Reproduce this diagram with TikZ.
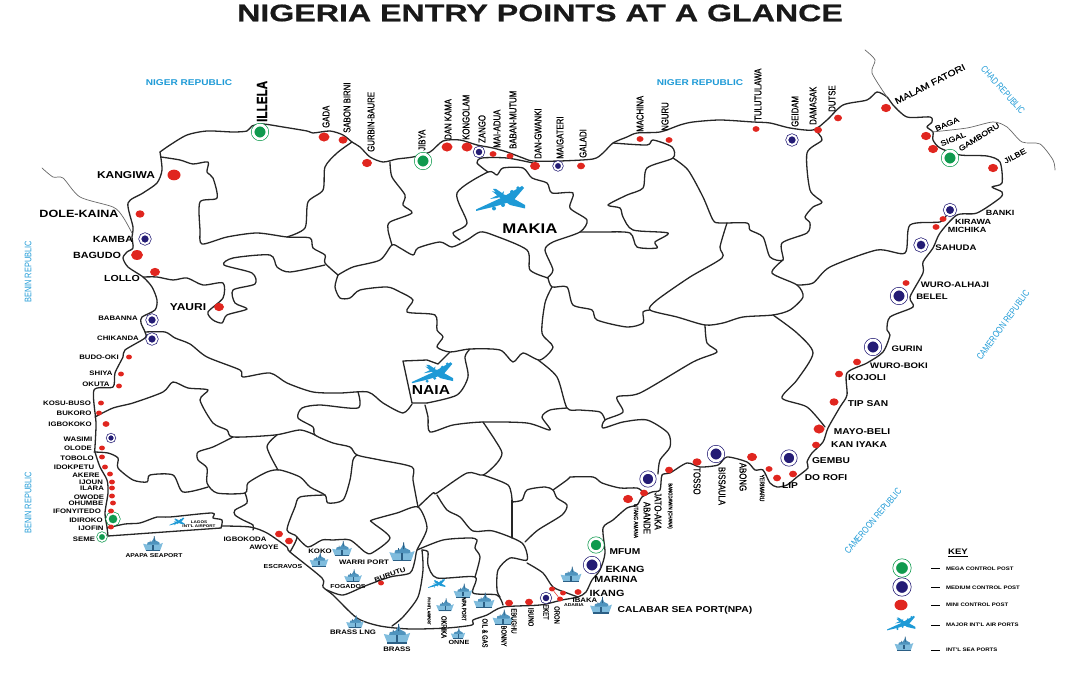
\documentclass[tikz,border=0pt]{standalone}
\usepackage{fontspec}
\usetikzlibrary{shapes.geometric}
\setmainfont{Liberation Sans}
\newfontfamily\maptitle[FakeStretch=1.34,FakeBold=.6]{Liberation Sans}
\newfontfamily\mapwide[FakeStretch=1.2]{Liberation Sans}
\newfontfamily\mapslant[FakeStretch=1.2,FakeBold=.6]{Liberation Sans}
\newfontfamily\mapnarrow[FakeStretch=.78,FakeBold=.5]{Liberation Sans}
\newfontfamily\mapblue[FakeStretch=.78]{Liberation Sans}
\definecolor{postgreen}{HTML}{0F9A4E}
\definecolor{postblue}{HTML}{241C75}
\definecolor{postred}{HTML}{E0261F}
\definecolor{skyblue}{HTML}{1E9AD6}
\definecolor{shipblue}{HTML}{4F94BE}
\definecolor{shiplight}{HTML}{7FBCDD}
\definecolor{shipdark}{HTML}{2B5F85}
\definecolor{inkline}{HTML}{262626}
\tikzset{
  stateline/.style = {draw=inkline,line width=1.3pt,line join=round,line cap=round},
  foreignline/.style = {draw=inkline!70,line width=.7pt,line join=round,line cap=round},
  ringpost/.style = {circle,double=white,line width=.7pt,inner sep=0pt,minimum size=.85*#1pt-1.4pt,double distance=.15*#1pt},
  megapost/.style = {ringpost=#1,draw=postgreen,fill=postgreen},
  mediumpost/.style = {ringpost=#1,draw=postblue,fill=postblue},
  minipost/.style = {ellipse,fill=postred,inner sep=0pt,minimum width=#1pt,minimum height=.82*#1pt},
  wordbig/.style = {inner sep=0pt,text=black,font=\mapwide\bfseries\fontsize{#1}{#1}\selectfont},
  wordup/.style = {inner sep=0pt,text=black,font=\mapnarrow\fontsize{#1}{#1}\selectfont},
  countryword/.style = {inner sep=0pt,text=skyblue,font=\mapwide\bfseries\fontsize{8.4}{8.4}\selectfont},
  countryup/.style = {inner sep=0pt,text=skyblue,font=\mapblue\fontsize{9.5}{9.5}\selectfont},
  plane/.pic = {
    \fill[skyblue] (-31,9.5) -- (-5,-2.5) -- (15,-14) -- (17,-12) -- (6,1) -- (-12,6.5) -- (-31,11) -- cycle;
    \fill[skyblue] (-15,-9) -- (2,-4) -- (18,5) -- (18,8.5) -- (3,5) -- (-8,-3) -- cycle;
    \fill[skyblue] (-17,-1) -- (-9,-5) -- (-14,-11) -- (-11,-11) -- (-5,-7) -- (-3,-9) -- (-4,-4) -- (-10,-2) -- cycle;
    \fill[skyblue] (-13,8.5) circle (2) (-4,5) circle (2) (5,-8) circle (2) (11,-12) circle (1.8);
  },
  ship/.pic = {
    \fill[shipblue] (-7,0) -- (-6,-4) -- (-1.5,-5) -- (0,-7) -- (1.5,-10) -- (3,-6) -- (7,-4) -- (8,0) -- cycle;
    \fill[shiplight] (-11,-2.5) -- (-6,-1.5) -- (6,-1.5) -- (11,-3.5) -- (8,5) -- (-8,5) -- cycle;
    \fill[shipdark] (-8,4.2) rectangle (8,5.6);
    \fill[shipdark] (-.6,-1.5) rectangle (.8,4);
    \fill[shipdark] (1,-11) rectangle (1.8,-5) (-3.4,-6) rectangle (-2.8,-4);
  }
}
\begin{document}
\begin{tikzpicture}[x=1pt,y=-1pt]
\useasboundingbox (0,0) rectangle (1080,684);
% outer frontier
\draw[stateline] plot[smooth,tension=.45] coordinates {(160,152) (170,145) (187,135) (207,131) (233,132) (247,131) (252,126) (263,124) (283,127) (307,131) (313,133) (330,131) (343,135) (352,142) (360,147) (370,157) (383,162) (397,159) (413,157) (430,152) (443,141) (460,140) (477,145) (493,148) (507,152) (523,158) (533,161) (560,161) (593,159) (603,153) (613,143) (627,137) (637,133) (660,132) (680,125) (693,122) (720,120) (753,122) (770,123) (790,128) (813,130) (827,120) (843,105) (867,100) (877,92) (887,97) (893,105) (907,117) (930,117) (932,122) (927,127) (933,132) (933,140) (940,148) (960,155) (987,156) (1000,162) (1002,183) (992,187) (1002,192) (1000,198) (977,213) (957,215) (940,233) (933,248) (923,262) (923,273) (910,297) (913,307) (890,317) (887,330) (890,335) (883,352) (867,363) (847,373) (847,395) (840,407) (828,428) (823,442) (812,453) (807,462) (808,468) (797,477) (787,485) (777,487) (770,483) (763,470) (755,470) (747,462) (727,457) (718,465) (700,467) (687,463) (670,473) (662,475) (660,490) (652,492) (642,497) (637,505) (627,508) (613,520) (603,528) (605,553) (600,570) (592,580) (586,592) (578,597) (562,600) (540,605) (503,607) (487,615) (473,620) (472,625) (447,628) (410,629) (380,626) (357,618) (333,595) (323,587) (322,578) (290,552) (287,547) (267,533) (250,527) (222,526)};
\draw[stateline] (221,528) -- (108,536);
\draw[stateline] plot[smooth,tension=.45] coordinates {(108,536) (107,527) (105,513) (108,493) (107,480) (100,467) (95,452) (95,447) (96,423) (94,390) (113,387) (115,373) (123,357) (125,350) (145,338) (145,332) (141,323) (142,317) (155,310) (157,300) (152,287) (143,277) (128,267) (123,258) (127,252) (133,248) (132,237) (133,227) (128,203) (143,193) (157,183) (162,170) (160,152)};
% north west states
\draw[stateline] plot[smooth,tension=.45] coordinates {(161,157) (180,160) (193,164) (208,162) (207,172) (213,178) (217,198) (200,202) (200,230) (202,244) (227,237) (257,233) (287,237) (310,238) (313,248) (325,255) (325,263) (338,275)};
\draw[stateline] plot[smooth,tension=.45] coordinates {(287,237) (305,228) (308,202) (323,190) (325,167) (337,153) (352,142)};
\draw[stateline] plot[smooth,tension=.45] coordinates {(325,265) (290,272) (277,267) (270,255) (233,258) (224,265) (252,273) (255,284) (233,290) (235,303) (247,309) (227,315) (222,323) (213,320) (208,312) (223,298) (223,283) (203,285) (187,278) (173,280) (157,277) (143,277)};
\draw[stateline] plot[smooth,tension=.45] coordinates {(338,275) (335,287) (340,298) (350,298) (360,290) (387,287) (400,292) (413,300) (407,312) (435,315) (437,330) (443,337) (437,347) (450,352) (470,349) (500,350) (513,362) (523,353) (540,360) (553,347) (542,333) (545,303) (552,287)};
\draw[stateline] plot[smooth,tension=.45] coordinates {(338,275) (353,267) (380,260) (392,245) (400,248) (413,255) (418,248) (440,242) (452,247) (467,240) (480,232) (493,235) (527,250) (530,270) (548,278)};
\draw[stateline] plot[smooth,tension=.45] coordinates {(390,162) (392,177) (405,195) (403,205) (412,213) (390,222) (388,230) (392,245)};
% kaduna and kano
\draw[stateline] plot[smooth,tension=.45] coordinates {(460,240) (453,233) (467,223) (457,193) (488,172) (497,175) (503,168) (523,168) (532,178) (547,183) (552,193) (573,193) (570,208) (587,220) (580,232) (553,242) (545,250) (553,270) (547,278)};
\draw[stateline] plot[smooth,tension=.45] coordinates {(488,172) (477,163) (482,158) (507,158) (533,163)};
\draw[stateline] plot[smooth,tension=.45] coordinates {(580,232) (603,232) (630,233) (637,247) (657,248) (655,242) (668,233) (633,230) (623,217) (620,208) (608,205) (627,195) (643,188) (647,168) (673,158) (672,147) (653,140) (647,145) (613,143)};
\draw[stateline] plot[smooth,tension=.45] coordinates {(673,158) (688,170) (703,197) (713,220) (720,223) (747,223) (750,230) (763,237) (770,257) (783,260) (782,243) (807,233) (810,223) (805,217) (813,207) (822,202) (810,190) (807,153) (822,140) (815,130)};
\draw[stateline] plot[smooth,tension=.45] coordinates {(727,223) (720,247) (722,258) (690,277) (657,300) (650,310) (677,317) (705,325) (723,323) (743,317) (773,315) (790,310) (803,297) (797,285) (772,273) (783,260)};
\draw[stateline] plot[smooth,tension=.45] coordinates {(548,278) (552,287) (567,287) (573,305) (592,310) (597,320) (627,327) (643,323) (643,312) (650,310)};
% north east
\draw[stateline] plot[smooth,tension=.45] coordinates {(797,285) (813,283) (830,267) (877,250) (905,253) (910,225) (940,222) (946,216)};
\draw[stateline] plot[smooth,tension=.45] coordinates {(773,315) (797,333) (813,353) (797,380) (782,398) (807,407) (825,427)};
\draw[stateline] plot[smooth,tension=.45] coordinates {(705,325) (707,343) (717,352) (693,362) (640,393) (617,397) (623,412) (605,420) (603,428) (623,422) (647,420) (668,433) (670,447) (660,460) (658,474)};
\draw[stateline] plot[smooth,tension=.45] coordinates {(538,360) (557,377) (567,408) (580,410) (600,412) (605,420)};
\draw[stateline] plot[smooth,tension=.45] coordinates {(570,477) (593,477) (602,483) (620,488) (637,488) (643,492)};
% middle belt and abuja
\draw[stateline] plot[smooth,tension=.45] coordinates {(567,408) (550,410) (542,417) (550,430) (527,423) (483,422) (453,425) (430,432) (428,417) (425,405)};
\draw[stateline] (450,352) -- (438,364) -- (427,360) -- (403,361) -- (412,403) -- (427,403);
\draw[stateline] plot[smooth,tension=.45] coordinates {(470,349) (465,357) (468,377) (457,395) (427,403)};
\draw[stateline] plot[smooth,tension=.45] coordinates {(145,332) (165,332) (175,338) (190,344) (207,357) (240,370) (243,377) (270,373) (287,383) (313,392) (340,393) (368,392) (383,403) (403,413) (412,404)};
% south west
\draw[stateline] plot[smooth,tension=.45] coordinates {(358,392) (358,408) (320,405) (302,408) (298,418) (313,427) (315,435) (333,443) (350,447) (357,455) (380,460) (412,467) (413,480) (418,507)};
\draw[stateline] plot[smooth,tension=.45] coordinates {(95,417) (113,408) (133,403) (163,392) (173,382) (188,388) (208,390) (200,400) (213,423) (227,430) (233,437) (275,435) (300,430) (315,435)};
\draw[stateline] plot[smooth,tension=.45] coordinates {(94,452) (108,453) (118,458) (118,468) (133,480) (147,482) (150,475) (173,475) (183,492) (208,487)};
\draw[stateline] plot[smooth,tension=.45] coordinates {(233,437) (213,447) (198,452) (198,460) (207,468) (207,483) (217,493) (245,493) (248,483) (267,472) (280,470) (300,477) (310,487) (325,495) (328,503) (343,500) (350,480) (353,460) (357,455)};
\draw[stateline] plot[smooth,tension=.45] coordinates {(277,435) (267,447) (278,470)};
\draw[stateline] plot[smooth,tension=.45] coordinates {(107,528) (125,524) (140,523) (157,517) (170,517) (212,513) (213,518) (222,520) (221,528)};
\draw[stateline] plot[smooth,tension=.45] coordinates {(245,493) (247,503) (235,510) (235,515) (243,520) (253,525) (253,530)};
\draw[stateline] plot[smooth,tension=.45] coordinates {(325,495) (300,497) (295,507) (287,530) (297,537) (290,552)};
% niger delta and south east
\draw[stateline] plot[smooth,tension=.45] coordinates {(297,537) (308,547) (322,540) (333,540) (350,540) (365,552) (372,553) (390,538) (373,523) (372,520) (397,513) (418,507) (427,528) (417,550) (415,560) (410,573) (390,577) (365,586) (343,595) (327,590)};
\draw[stateline] plot[smooth,tension=.45] coordinates {(422,550) (423,570) (418,597) (403,617) (392,626)};
\draw[stateline] plot[smooth,tension=.45] coordinates {(422,550) (428,552) (428,565) (437,578) (475,577) (473,593) (497,595) (503,605)};
\draw[stateline] plot[smooth,tension=.45] coordinates {(417,550) (443,540) (470,538) (477,540) (475,548) (480,557) (475,577)};
\draw[stateline] plot[smooth,tension=.45] coordinates {(418,507) (433,493) (437,493) (467,473) (483,475) (497,463) (502,453) (495,440) (483,422)};
\draw[stateline] plot[smooth,tension=.45] coordinates {(437,495) (447,510) (460,517) (473,531) (493,531) (522,543) (527,560) (510,558) (498,570) (497,590) (500,597)};
\draw[stateline] plot[smooth,tension=.45] coordinates {(527,563) (543,573) (553,587) (567,593) (578,597)};
\draw[stateline] plot[smooth,tension=.45] coordinates {(483,475) (508,485) (512,500)};
\draw[stateline] (512,500) -- (512,538);
\draw[stateline] plot[smooth,tension=.45] coordinates {(512,502) (522,500) (527,490) (545,487) (553,490) (557,498) (567,505) (562,515) (538,530) (525,542)};
\draw[stateline] plot[smooth,tension=.45] coordinates {(553,490) (567,480) (570,477)};
% foreign frontiers
\draw[foreignline] plot[smooth,tension=.45] coordinates {(42,168) (53,177) (63,178) (80,197) (113,207) (123,217) (132,233)};
\draw[foreignline] plot[smooth,tension=.45] coordinates {(865,50) (875,60) (872,73) (887,97)};
\draw[foreignline] plot[smooth,tension=.45] coordinates {(932,132) (967,128) (993,122) (1007,127) (1022,142) (1040,144) (1053,160) (1055,170)};
% control posts
\foreach \x/\y/\d [count=\j] in {260/132/18,423/161/18,950/158/18,113/519/15,102/537/11,596/545/17,902/568/19}
  \node[megapost=\d] (mega\j) at (\x,\y) {};
\foreach \x/\y/\d [count=\j] in {145/239/13,152/320/13,152/339/13,111/438/10,479/152/12,558/166/11,792/140/13,950/210/14,921/245/15,899/296/18,873/347/18,592/565/18,546/598/12,648/479/17,716/454/18,789/458/17,902/587/19}
  \node[mediumpost=\d] (medium\j) at (\x,\y) {};
\foreach \x/\y/\d [count=\j] in {174/175/13,140/214/9,137/255/12,155/272/10,219/307/10,324/137/11,343/140/9,367/163/10,447/147/11,467/147/11,535/166/10,493/154/7,510/156/7,581/166/8,640/139/7,669/140/7,756/129/7,818/130/8,838/118/8,886/108/10,926/136/10,933/149/10,993/168/10,943/219/7,936/227/7,906/283/7,857/362/8,839/374/8,834/402/9,819/429/11,816/445/8,793/474/8,777/478/8,769/469/7,752/457/10,697/462/9,669/470/8,644/493/8,628/499/10,509/603/8,529/602/8,552/589/6,563/593/6,560/599/6,578/592/7,381/583/6,129/357/6,121/374/6,119/386/6,101/403/6,99/413/6,106/424/7,102/448/6,102/457/6,105/467/6,110/474/6,112/482/6,112/488/6,112/496/6,113/503/6,111/511/6,111/527/6,279/534/8,289/541/8,901/605/13}
  \node[minipost=\d] (mini\j) at (\x,\y) {};
\draw[postred,line width=.5pt] (mini42) -- (mini44);
% air and sea ports
\pic[scale=1] (planeMakia) at (507,200) {plane};
\pic[scale=.84] (planeNaia) at (438,374) {plane};
\pic[scale=.31] (planeLagos) at (179,522) {plane};
\pic[scale=.35] (planePh) at (439,584) {plane};
\pic[scale=.58] (planeKey) at (905,624) {plane};
\foreach \x/\y/\s [count=\j] in {153/546/.9,342/551/.9,319/562/.85,402/555/1.15,353/578/.8,355/624/.8,397/637/1.2,463/593/.85,445/607/.8,484/603/.95,503/620/.95,458/635/.65,571/577/.95,601/608/1,904/646/.85}
  \pic[scale=\s] (ship\j) at (\x,\y) {ship};
% title and countries
\node[inner sep=0pt,text=black!90,font=\maptitle\bfseries\fontsize{24}{24}\selectfont] (title) at (540,13) {NIGERIA ENTRY POINTS AT A GLANCE};
\node[countryword] (nigerW) at (189,83) {NIGER REPUBLIC};
\node[countryword] (nigerE) at (700,83) {NIGER REPUBLIC};
\node[countryup,rotate=90] (beninN) at (28,272) {BENIN REPUBLIC};
\node[countryup,rotate=90] (beninS) at (28,503) {BENIN REPUBLIC};
\node[countryup,rotate=-48] (chad) at (1003,90) {CHAD REPUBLIC};
\node[countryup,rotate=54] (camN) at (1003,325) {CAMEROON REPUBLIC};
\node[countryup,rotate=50] (camS) at (873,521) {CAMEROON REPUBLIC};
% flat names
\foreach \x/\y/\s/\txt [count=\j] in {126/175/10/KANGIWA,79/214/10.5/DOLE-KAINA,113/239/9/KAMBA,97/255/9/BAGUDO,122/278/8.8/LOLLO,188/307/10/YAURI,118/318/6.5/BABANNA,118/338/6.5/CHIKANDA,99/357/6.5/BUDO-OKI,101/373/6.5/SHIYA,96/384/6.5/OKUTA,67/403/6.5/KOSU-BUSO,74/413/6.5/BUKORO,70/424/6.5/IGBOKOKO,78/439/6.5/WASIMI,78/448/6.5/OLODE,77/458/6.5/TOBOLO,74/467/6.5/IDOKPETU,86/475/6.5/AKERE,91/482/6.5/IJOUN,92/488/6.5/ILARA,89/497/6.5/OWODE,86/503/6.5/OHUMBE,77/511/6.5/IFONYITEDO,86/520/6.5/IDIROKO,91/528/6.5/IJOFIN,84/539/6.5/SEME,199/522/3.8/LAGOS,199/526/3.8/INT'L AIRPORT,154/556/5.6/APAPA SEAPORT,245/539/6.5/IGBOKODA,264/547/6.5/AWOYE,283/567/5.8/ESCRAVOS,320/551/6.5/KOKO,364/562/6.5/WARRI PORT,348/587/5.8/FOGADOS,353/632/6.5/BRASS LNG,397/649/6.5/BRASS,459/642/6/ONNE,585/600/6.5/IBAKA,574/605/4.2/ADABIA,607/593/9/IKANG,616/579/9/MARINA,625/569/9/EKANG,625/552/8.5/MFUM,685/610/8.6/CALABAR SEA PORT(NPA),790/486/8.5/LIP,826/478/8.5/DO ROFI,831/461/8.5/GEMBU,859/445/8.5/KAN IYAKA,862/432/8.5/MAYO-BELI,868/404/8.5/TIP SAN,867/378/8.5/KOJOLI,899/366/8/WURO-BOKI,907/349/8/GURIN,932/297/8/BELEL,955/285/8/WURO-ALHAJI,956/248/8/SAHUDA,967/230/7.5/MICHIKA,973/222/7.5/KIRAWA,1000/213/7.5/BANKI,530/229/14/MAKIA,431/390/13/NAIA}
  \node[wordbig=\s] (place\j) at (\x,\y) {\txt};
\node[wordbig=6.5,rotate=20] (buruTu) at (390,575) {BURUTU};
% names along the northern frontier, read upwards
\foreach \x/\y/\s/\txt [count=\j] in {326/128/10/GADA,347/133/10/SABON BIRNI,371/152/10/GURBIN-BAURE,422/151/10/JIBYA,448/140/10/DAN KAMA,466/140/10/KONGOLAM,482/143/10/ZANGO,497/148/10/MAI-ADUA,513/149/10/BABAN-MUTUM,538/159/10/DAN-GWANKI,560/159/10/MAIGATERI,583/158/10/GALADI,640/132/10/MACHINA,665/131/10/NGURU,758/121/10/TULUTULAWA,795/127/10/GEIDAM,813/125/10/DAMASAK,832/112/10/DUTSE}
  \node[wordup=\s,rotate=90,anchor=west] (north\j) at (\x,\y) {\txt};
\node[wordup=15,rotate=90,anchor=west,font=\mapnarrow\bfseries\fontsize{15}{15}\selectfont] (illela) at (262,122) {ILLELA};
% names along the coast and the east, read downwards
\foreach \x/\y/\s/\txt [count=\j] in {429/611/4/PH INT'L AIRPORT,444/627/7.5/OKRIKA,464/609/6/NPA PORT,485/633/7.5/OIL \& GAS,504/636/7.5/BONNY,514/621/7.5/EBUGHU,531/617/7.5/IBUNO,546/612/7.5/EKET,557/615/7.5/ORON,636/521/6/UTANG AMANA,647/518/10/ABANDE,658/511/10/JATO-AKA,670/506/5.5/BANGDAWIN (CHANA),697/481/10/TOSSO,722/486/10/BISSAULA,743/477/10/ABONG,762/488/6.5/YERIMARU}
  \node[wordup=\s,rotate=-90] (south\j) at (\x,\y) {\txt};
% slanting names of the lake corner
\foreach \x/\y/\a/\s/\txt [count=\j] in {930/84/27/8.8/MALAM FATORI,947/124/23/7.5/BAGA,953/139/22/7.5/SIGAL,979/137/32/7.5/GAMBORU,1015/156/28/7.5/JILBE}
  \node[wordbig=\s,rotate=\a,font=\mapslant\fontsize{\s}{\s}\selectfont] (slant\j) at (\x,\y) {\txt};
% key
\node[wordbig=8] (keyTitle) at (958,553) {\underline{KEY}};
\foreach \y/\txt [count=\j] in {569/MEGA CONTROL POST,588/MEDIUM CONTROL POST,605/MINI CONTROL POST,625/MAJOR INT'L AIR PORTS,650/INT'L SEA PORTS}{
  \draw[black,line width=1pt] (931,\y) -- (940,\y);
  \node[wordbig=5,anchor=west] (keyText\j) at (946,\y) {\txt};
}
\end{tikzpicture}
\end{document}
